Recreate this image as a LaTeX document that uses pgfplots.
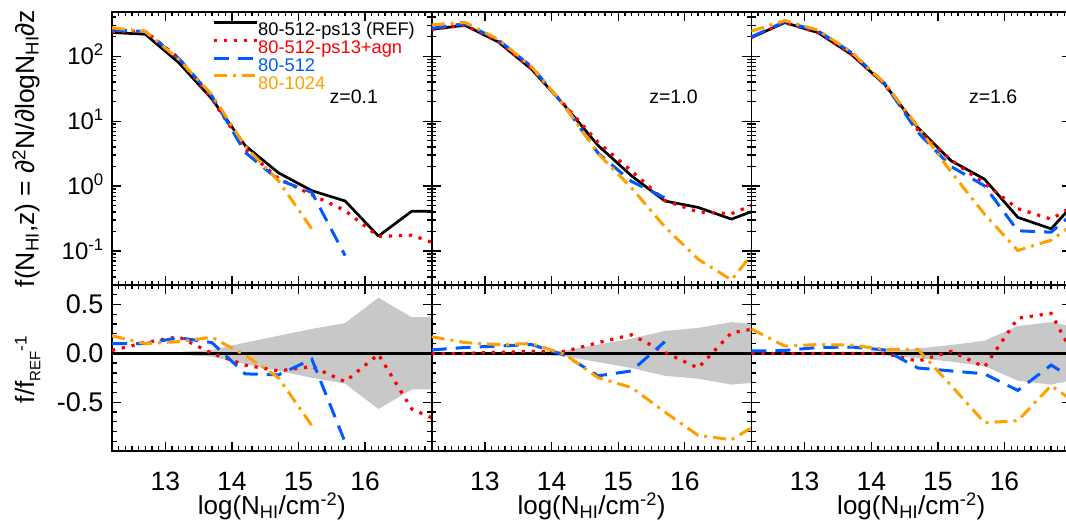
\documentclass[border=0pt]{standalone}
\usepackage{fontspec}
\setmainfont{Liberation Sans}
\usepackage{pgfplots}
\pgfplotsset{compat=1.18}
\definecolor{cred}{RGB}{255,0,0}
\definecolor{cblue}{RGB}{0,90,255}
\definecolor{corange}{RGB}{255,160,0}
\definecolor{cband}{RGB}{200,200,200}
\tikzset{
  sblack/.style={black, line width=2.7pt, line join=round},
  sred/.style={cred, line width=3.2pt, dash pattern=on 3.2pt off 6.8pt},
  sblue/.style={cblue, line width=3pt, dash pattern=on 15pt off 9pt},
  sorange/.style={corange, line width=3pt, dash pattern=on 13pt off 6pt on 3pt off 6pt},
}
\newcommand{\smallsub}[1]{\raisebox{-0.22em}{\fontsize{15}{15}\selectfont #1}}
\newcommand{\smallsup}[1]{\raisebox{0.3em}{\fontsize{17}{17}\selectfont #1}}
\pgfplotsset{
  panel/.style={
    scale only axis, width=319.7pt,
    xmin=12.2, xmax=17.0,
    axis line style={line width=1.8pt},
    every tick/.style={line width=1.3pt, black},
    tick align=inside,
    major tick length=9pt, minor tick length=4.5pt,
    xtick={13,14,15,16},
    minor xtick={12.3,12.4,12.5,12.6,12.7,12.8,12.9,13.1,13.2,13.3,13.4,13.5,13.6,13.7,13.8,13.9,14.1,14.2,14.3,14.4,14.5,14.6,14.7,14.8,14.9,15.1,15.2,15.3,15.4,15.5,15.6,15.7,15.8,15.9,16.1,16.2,16.3,16.4,16.5,16.6,16.7,16.8,16.9},
    xticklabel style={font=\fontsize{26.5}{30}\selectfont, inner sep=0pt, anchor=north, yshift=-21pt},
    xlabel style={font=\fontsize{26}{30}\selectfont, at={(axis description cs:0.5,-0.38)}, anchor=base},
  },
  toprow/.style={panel, ymin=0.03, ymax=480, height=273pt,
    ytick={0.1,1,10,100},
    minor ytick={0.04,0.05,0.06,0.07,0.08,0.09,0.2,0.3,0.4,0.5,0.6,0.7,0.8,0.9,2,3,4,5,6,7,8,9,20,30,40,50,60,70,80,90,200,300,400},
    xticklabels={}, yticklabels={},
    yticklabel style={font=\fontsize{24}{28}\selectfont, anchor=base east, inner sep=0pt, xshift=-8pt, yshift=-8.6pt},
    ylabel style={font=\fontsize{26.5}{30}\selectfont, at={(axis description cs:-0.2424,0.5)}, anchor=base},
  },
  botrow/.style={panel, ymin=-1, ymax=0.7, height=166pt,
    ytick={-0.5,0,0.5},
    minor ytick={-0.9,-0.8,-0.7,-0.6,-0.4,-0.3,-0.2,-0.1,0.1,0.2,0.3,0.4,0.6},
    xticklabels={13,14,15,16}, yticklabels={},
    xlabel={log(N\textsubscript{HI}/cm\textsuperscript{-2})},
    yticklabel style={font=\fontsize{27}{30}\selectfont, anchor=east, inner sep=0pt, xshift=-8.5pt},
    ylabel style={font=\fontsize{26.5}{30}\selectfont, at={(axis description cs:-0.2424,0.49)}, anchor=base},
  },
}
\begin{document}
\begin{tikzpicture}
\path[use as bounding box] (0pt,0pt) rectangle (1066pt,522pt);
% ---------------- panel 1 top
\begin{axis}[ymode=log, toprow, at={(112pt,510pt)}, anchor=north west,
  yticklabels={10\textsuperscript{-1},10\textsuperscript{0},10\textsuperscript{1},10\textsuperscript{2}},
  ylabel={f(N\textsubscript{HI},z) = ∂\textsuperscript{2}N/∂logN\textsubscript{HI}∂z},
  legend cell align=left,
  legend image code/.code={\draw[#1] (0pt,6.6pt) -- (43pt,6.6pt);},
  legend style={at={(axis description cs:0.3128,0.97)}, anchor=north west, draw=none, fill=none,
    inner sep=0pt, outer sep=0pt, row sep=0pt, column sep=0pt,
    font=\fontsize{18.3}{20}\selectfont,
    nodes={inner sep=0pt, text height=15.5pt, text depth=2.3pt}},
]
\addplot[sblack] coordinates {(12.2,232) (12.7,218) (13.2,80) (13.7,22) (14.2,4.2) (14.7,1.6) (15.2,0.85) (15.7,0.59) (16.2,0.17) (16.7,0.41) (17.2,0.41)};
\addlegendentry{80-512-ps13 (REF)}
\addplot[sred] coordinates {(12.2,239) (12.7,242) (13.2,94) (13.7,22) (14.2,3.7) (14.7,1.31) (15.2,0.735) (15.7,0.42) (16.2,0.168) (16.7,0.176) (17.2,0.115)};
\addlegendentry{\textcolor{cred}{80-512-ps13+agn}}
\addplot[sblue] coordinates {(12.2,255) (12.7,240) (13.2,93) (13.7,24.4) (14.2,3.3) (14.7,1.25) (15.2,0.80) (15.7,0.085)};
\addlegendentry{\textcolor{cblue}{80-512}}
\addplot[sorange] coordinates {(12.2,274) (12.7,240) (13.2,90) (13.7,25.6) (14.2,4.1) (14.7,1.2) (15.2,0.22)};
\addlegendentry{\textcolor{corange}{80-1024}}
\node[font=\fontsize{19.5}{22}\selectfont] at (axis cs:15.83,24) {z=0.1};
\end{axis}
% ---------------- panel 2 top
\begin{axis}[ymode=log, toprow, at={(431.7pt,510pt)}, anchor=north west]
\addplot[sblack] coordinates {(12.2,260) (12.7,300) (13.2,166) (13.7,63) (14.2,17.2) (14.7,4.2) (15.2,1.44) (15.7,0.59) (16.2,0.47) (16.7,0.31) (17.2,0.48)};
\addplot[sred] coordinates {(12.2,260) (12.7,300) (13.2,168) (13.7,64) (14.2,17.5) (14.7,4.7) (15.2,1.71) (15.7,0.60) (16.2,0.40) (16.7,0.375) (17.2,0.61)};
\addplot[sblue] coordinates {(12.2,269) (12.7,318) (13.2,178) (13.7,69) (14.2,16.9) (14.7,3.2) (15.2,1.18) (15.7,0.66)};
\addplot[sorange] coordinates {(12.2,304) (12.7,333) (13.2,181) (13.7,69) (14.2,17) (14.7,3.15) (15.2,0.94) (15.7,0.236) (16.2,0.075) (16.7,0.036) (17.2,0.154)};
\node[font=\fontsize{19.5}{22}\selectfont] at (axis cs:15.83,24) {z=1.0};
\end{axis}
% ---------------- panel 3 top
\begin{axis}[ymode=log, toprow, at={(751.4pt,510pt)}, anchor=north west]
\addplot[sblack] coordinates {(12.2,194) (12.7,330) (13.2,231) (13.7,107) (14.2,37) (14.7,7.9) (15.2,2.45) (15.7,1.28) (16.2,0.33) (16.7,0.22) (17.2,0.8)};
\addplot[sred] coordinates {(12.2,194) (12.7,330) (13.2,231) (13.7,107) (14.2,37) (14.7,7.3) (15.2,2.5) (15.7,1.1) (16.2,0.45) (16.7,0.31) (17.2,0.62)};
\addplot[sblue] coordinates {(12.2,199) (12.7,340) (13.2,245) (13.7,114) (14.2,38.3) (14.7,6.7) (15.2,2.0) (15.7,1.01) (16.2,0.205) (16.7,0.195) (17.2,0.54)};
\addplot[sorange] coordinates {(12.2,243) (12.7,355) (13.2,252) (13.7,116) (14.2,38.5) (14.7,8.2) (15.2,1.64) (15.7,0.37) (16.2,0.102) (16.7,0.147) (17.2,0.34)};
\node[font=\fontsize{19.5}{22}\selectfont] at (axis cs:15.83,24) {z=1.6};
\end{axis}
% ---------------- panel 1 bottom
\begin{axis}[botrow, at={(112pt,237pt)}, anchor=north west,
  yticklabels={-0.5,0.0,0.5},
  ylabel={f/f\smallsub{REF}\smallsup{-1}}]
\addplot[fill=cband, draw=none] coordinates {(12.2,0) (12.7,0.007) (13.2,0.013) (13.7,0.034) (14.2,0.11) (14.7,0.18) (15.2,0.25) (15.7,0.31) (16.2,0.57) (16.7,0.37) (17.2,0.37) (17.2,-0.37) (16.7,-0.37) (16.2,-0.57) (15.7,-0.31) (15.2,-0.25) (14.7,-0.18) (14.2,-0.11) (13.7,-0.034) (13.2,-0.013) (12.7,-0.007) (12.2,0)};
\addplot[sblack] coordinates {(12.2,0) (17.2,0)};
\addplot[sred] coordinates {(12.2,0.03) (12.7,0.11) (13.2,0.17) (13.7,0.0) (14.2,-0.12) (14.7,-0.18) (15.2,-0.135) (15.7,-0.29) (16.2,-0.01) (16.7,-0.57) (17.2,-0.72)};
\addplot[sblue] coordinates {(12.2,0.1) (12.7,0.1) (13.2,0.16) (13.7,0.11) (14.2,-0.21) (14.7,-0.22) (15.2,-0.06) (15.7,-0.91)};
\addplot[sorange] coordinates {(12.2,0.18) (12.7,0.1) (13.2,0.12) (13.7,0.165) (14.2,-0.02) (14.7,-0.25) (15.2,-0.74)};
\end{axis}
% ---------------- panel 2 bottom
\begin{axis}[botrow, at={(431.7pt,237pt)}, anchor=north west]
\addplot[fill=cband, draw=none] coordinates {(12.2,0) (12.7,0.003) (13.2,0.006) (13.7,0.015) (14.2,0.03) (14.7,0.09) (15.2,0.15) (15.7,0.23) (16.2,0.26) (16.7,0.32) (17.2,0.29) (17.2,-0.29) (16.7,-0.32) (16.2,-0.26) (15.7,-0.23) (15.2,-0.15) (14.7,-0.09) (14.2,-0.03) (13.7,-0.015) (13.2,-0.006) (12.7,-0.003) (12.2,0)};
\addplot[sblack] coordinates {(12.2,0) (17.2,0)};
\addplot[sred] coordinates {(12.2,0) (12.7,0) (13.2,0.01) (13.7,0.02) (14.2,0.02) (14.7,0.11) (15.2,0.19) (15.7,0.01) (16.2,-0.15) (16.7,0.21) (17.2,0.27)};
\addplot[sblue] coordinates {(12.2,0.035) (12.7,0.06) (13.2,0.075) (13.7,0.09) (14.2,-0.02) (14.7,-0.23) (15.2,-0.18) (15.7,0.12)};
\addplot[sorange] coordinates {(12.2,0.17) (12.7,0.11) (13.2,0.09) (13.7,0.10) (14.2,-0.01) (14.7,-0.25) (15.2,-0.35) (15.7,-0.6) (16.2,-0.84) (16.7,-0.885) (17.2,-0.68)};
\end{axis}
% ---------------- panel 3 bottom
\begin{axis}[botrow, at={(751.4pt,237pt)}, anchor=north west]
\addplot[fill=cband, draw=none] coordinates {(12.2,0) (12.7,0.003) (13.2,0.005) (13.7,0.01) (14.2,0.02) (14.7,0.05) (15.2,0.085) (15.7,0.13) (16.2,0.28) (16.7,0.32) (17.2,0.25) (17.2,-0.25) (16.7,-0.32) (16.2,-0.28) (15.7,-0.13) (15.2,-0.085) (14.7,-0.05) (14.2,-0.02) (13.7,-0.01) (13.2,-0.005) (12.7,-0.003) (12.2,0)};
\addplot[sblack] coordinates {(12.2,0) (17.2,0)};
\addplot[sred] coordinates {(12.2,0) (12.7,0) (13.2,0) (13.7,0) (14.2,0) (14.7,-0.08) (15.2,0.02) (15.7,-0.14) (16.2,0.36) (16.7,0.41) (17.2,-0.23)};
\addplot[sblue] coordinates {(12.2,0.024) (12.7,0.03) (13.2,0.06) (13.7,0.065) (14.2,0.035) (14.7,-0.15) (15.2,-0.18) (15.7,-0.21) (16.2,-0.38) (16.7,-0.12) (17.2,-0.33)};
\addplot[sorange] coordinates {(12.2,0.25) (12.7,0.075) (13.2,0.09) (13.7,0.085) (14.2,0.04) (14.7,0.04) (15.2,-0.33) (15.7,-0.71) (16.2,-0.69) (16.7,-0.33) (17.2,-0.57)};
\end{axis}
\end{tikzpicture}
\end{document}
